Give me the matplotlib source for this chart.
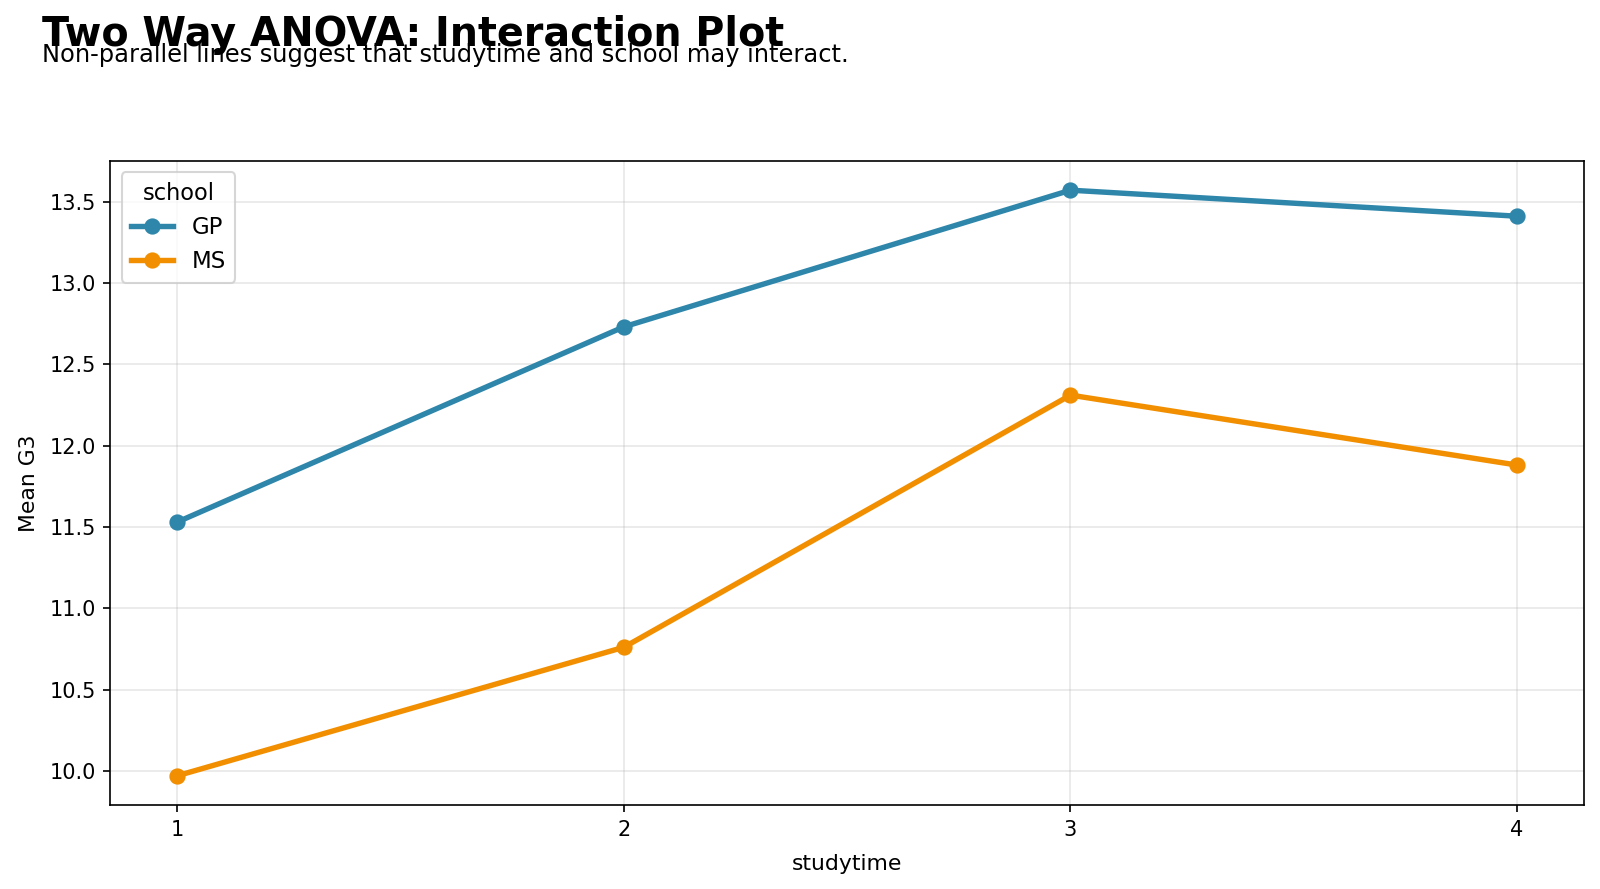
import matplotlib
matplotlib.use("Agg")
import matplotlib.pyplot as plt

studytime = [1, 2, 3, 4]
gp_means = [11.53, 12.73, 13.57, 13.41]
ms_means = [9.97, 10.76, 12.31, 11.88]
series = {"GP": gp_means, "MS": ms_means}
colors = {"GP": "#2E86AB", "MS": "#F18F01"}

fig = plt.figure(figsize=(1600/150, 889/150), dpi=150)
ax = fig.add_axes([0.069, 0.0945, 0.921, 0.7245])

for name, vals in series.items():
    ax.plot(studytime, vals, marker="o", linewidth=2.6, markersize=6.8,
            color=colors[name], label=name)

ax.set_xticks(studytime)
ax.set_xlabel("studytime", fontsize=10.5, labelpad=7)
ax.set_ylabel("Mean G3", fontsize=10.5, labelpad=5)
ax.tick_params(labelsize=10)
ax.grid(True, alpha=0.3)
ax.legend(title="school", loc="upper left", fontsize=11, title_fontsize=10.8,
          handlelength=1.85)

fig.text(0.026, 0.948, "Two Way ANOVA: Interaction Plot", fontsize=19,
         fontweight="bold", ha="left", va="baseline")
fig.text(0.026, 0.930, "Non-parallel lines suggest that studytime and school may interact.",
         fontsize=11.6, ha="left", va="baseline")

fig.savefig("out.png", dpi=150)
